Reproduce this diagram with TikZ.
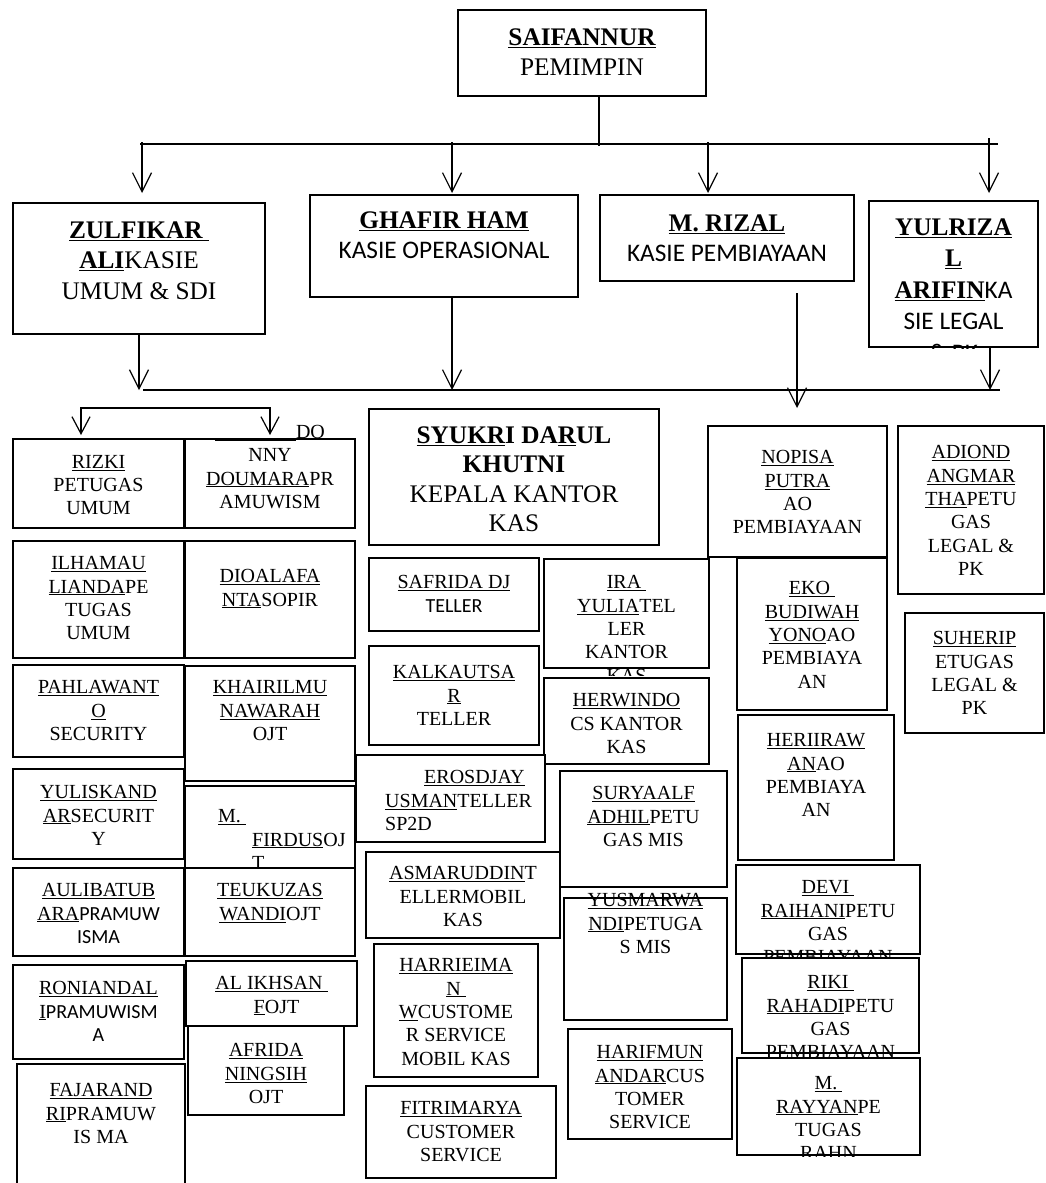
\documentclass[tikz,border=0pt]{standalone}
\usepackage{fontspec}
\setmainfont{Liberation Serif}
\newfontfamily\calib{Carlito}
\usetikzlibrary{arrows.meta,positioning}

\begin{document}
\begin{tikzpicture}[x=1pt,y=-1pt,
    box/.style 2 args={draw,line width=2pt,fill=white,minimum width=#1,minimum height=#2,anchor=north west,inner sep=0pt},
    big/.style={font=\fontsize{25.3}{30.5}\selectfont,align=center,inner sep=0pt},
    small/.style={font=\fontsize{20}{23.3}\selectfont,align=center,inner sep=0pt},
    link/.style={line width=1.2pt},
    arr/.style={line width=1.2pt,-{Straight Barb[length=19pt,width=19pt]}}]

    \path[use as bounding box,clip] (0,0) rectangle (1045,1183);

    \node[box={248}{86}] (saifannur) at (457,9) {};
    \node[big,below=19.5pt of saifannur.north] (saifannurT) {\textbf{\underline{SAIFANNUR}}\\PEMIMPIN};

    \node[box={252}{131}] (zulfikar) at (12,202) {};
    \node[big,below=19.5pt of zulfikar.north] (zulfikarT) {\textbf{\underline{ZULFIKAR\ }}\\\textbf{\underline{ALI}}KASIE\\UMUM \& SDI};
    \node[box={268}{102}] (ghafir) at (309,194) {};
    \node[big,below=17.5pt of ghafir.north] (ghafirT) {\textbf{\underline{GHAFIR HAM}}\\{\calib KASIE OPERASIONAL}};
    \node[box={254}{86}] (rizal) at (599,194) {};
    \node[big,below=20.5pt of rizal.north] (rizalT) {\textbf{\underline{M. RIZAL}}\\{\calib KASIE PEMBIAYAAN}};
    \node[box={169}{146}] (yulriza) at (868,200) {};
    \begin{scope}
        \clip (yulriza.north west) rectangle (yulriza.south east);
        \node[big,font=\fontsize{25.3}{31.5}\selectfont,below=18.5pt of yulriza.north] (yulrizaT) {\textbf{\underline{YULRIZA}}\\\textbf{\underline{L}}\\\textbf{\underline{ARIFIN}}{\calib KA}\\{\calib SIE LEGAL}\\{\calib \& PK}};
    \end{scope}

    \node[box={171}{89}] (rizki) at (12,438) {};
    \node[small,below=17pt of rizki.north] (rizkiT) {\underline{RIZKI}\\PETUGAS\\UMUM};
    \node[box={170}{89}] (donny) at (184,438) {};
    \node[small,below=-13pt of donny.north] (donnyT) {\underline{\hspace*{81pt}}DO\\NNY\\\underline{DOUMARA}PR\\AMUWISM};
    \node[box={171}{117}] (ilham) at (12,540) {};
    \node[small,below=16.4pt of ilham.north] (ilhamT) {\underline{ILHAMAU}\\\underline{LIANDA}PE\\TUGAS\\UMUM};
    \node[box={170}{117}] (dio) at (184,540) {};
    \node[small,below=29.4pt of dio.north] (dioT) {\underline{DIOALAFA}\\\underline{NTA}SOPIR};
    \node[box={171}{92}] (pahlawan) at (12,664) {};
    \node[small,below=16.4pt of pahlawan.north] (pahlawanT) {\underline{PAHLAWANT}\\\underline{O}\\SECURITY};
    \node[box={170}{115}] (khairil) at (184,665) {};
    \node[small,below=15.4pt of khairil.north] (khairilT) {\underline{KHAIRILMU}\\\underline{NAWARAH}\\OJT};
    \node[box={171}{90}] (yulis) at (12,768) {};
    \node[small,below=17.4pt of yulis.north] (yulisT) {\underline{YULISKAND}\\\underline{AR}SECURIT\\Y};
    \node[box={170}{82}] (firdus) at (184,785) {};
    \begin{scope}
        \clip (firdus.north west) rectangle (firdus.south east);
        \node[small,align=left,below right=24.4pt and 34pt of firdus.north west] (firdusT) {\underline{M.\ }\\\hspace*{34pt}\underline{FIRDUS}OJ\\\hspace*{34pt}T};
    \end{scope}
    \node[box={171}{88}] (aulia) at (12,867) {};
    \node[small,below=16.4pt of aulia.north] (auliaT) {\underline{AULIBATUB}\\\underline{ARA}{\calib PRAMUW}\\{\calib ISMA}};
    \node[box={170}{88}] (teuku) at (184,867) {};
    \node[small,below=16.4pt of teuku.north] (teukuT) {\underline{TEUKUZAS}\\\underline{WANDI}OJT};
    \node[box={171}{94}] (roni) at (12,964) {};
    \node[small,below=17.4pt of roni.north] (roniT) {\underline{RONIANDAL}\\\underline{I}{\calib PRAMUWISM}\\{\calib A}};
    \node[box={171}{65}] (ikhsan) at (185,960) {};
    \node[small,below=16.4pt of ikhsan.north] (ikhsanT) {\underline{AL IKHSAN\ }\\\hspace*{10pt}\underline{F}OJT};
    \node[box={156}{89}] (afrida) at (187,1025) {};
    \node[small,below=18.4pt of afrida.north] (afridaT) {\underline{AFRIDA}\\\underline{NINGSIH}\\OJT};
    \node[box={168}{140}] (fajar) at (16,1063) {};
    \node[small,below=20.4pt of fajar.north] (fajarT) {\underline{FAJARAND}\\\underline{RI}PRAMUW\\IS MA};

    \node[box={290}{136}] (syukri) at (368,408) {};
    \node[big,font=\fontsize{25.3}{29.3}\selectfont,below=18.5pt of syukri.north] (syukriT) {\textbf{\underline{SYUKR}I DA\underline{R}UL}\\\textbf{KHUTNI}\\KEPALA KANTOR\\KAS};
    \node[box={170}{73}] (safrida) at (368,557) {};
    \node[small,below=18.4pt of safrida.north] (safridaT) {\underline{SAFRIDA DJ}\\{\calib TELLER}};
    \node[box={165}{109}] (ira) at (543,558) {};
    \begin{scope}
        \clip (ira.north west) rectangle ([yshift=-6pt]ira.south east);
        \node[small,below=17.4pt of ira.north] (iraT) {\underline{IRA\ }\\\underline{YULIA}TEL\\LER\\KANTOR\\KAS};
    \end{scope}
    \node[box={170}{99}] (kalkautsar) at (368,645) {};
    \node[small,below=20.4pt of kalkautsar.north] (kalkautsarT) {\underline{KALKAUTSA}\\\underline{R}\\TELLER};
    \node[box={165}{86}] (herwindo) at (543,677) {};
    \node[small,below=16.4pt of herwindo.north] (herwindoT) {\underline{HERWINDO}\\CS KANTOR\\KAS};
    \node[box={189}{87}] (eros) at (355,754) {};
    \node[small,align=left,below right=16.4pt and 30pt of eros.north west] (erosT) {\hspace*{39pt}\underline{EROSDJAY}\\\underline{USMAN}TELLER\\SP2D};
    \node[box={167}{116}] (surya) at (559,770) {};
    \node[small,below=16.4pt of surya.north] (suryaT) {\underline{SURYAALF}\\\underline{ADHIL}PETU\\GAS MIS};
    \node[box={194}{86}] (asmar) at (365,851) {};
    \node[small,below=15.4pt of asmar.north] (asmarT) {\underline{ASMARUDDIN}T\\ELLERMOBIL\\KAS};
    \node[box={163}{122}] (yusmar) at (563,897) {};
    \node[small,below=-3.6pt of yusmar.north] (yusmarT) {\underline{YUSMARWA}\\\underline{NDI}PETUGA\\S MIS};
    \node[box={164}{133}] (harri) at (373,943) {};
    \node[small,below=15.4pt of harri.north] (harriT) {\underline{HARRIEIMA}\\\underline{N\ }\\\underline{W}CUSTOME\\R SERVICE\\MOBIL KAS};
    \node[box={190}{92}] (fitri) at (365,1085) {};
    \node[small,below=16.4pt of fitri.north] (fitriT) {\underline{FITRIMARYA}\\CUSTOMER\\SERVICE};
    \node[box={164}{110}] (harif) at (567,1028) {};
    \node[small,below=17.4pt of harif.north] (harifT) {\underline{HARIFMUN}\\\underline{ANDAR}CUS\\TOMER\\SERVICE};

    \node[box={179}{131}] (nopisa) at (707,425) {};
    \node[small,below=25.4pt of nopisa.north] (nopisaT) {\underline{NOPISA}\\\underline{PUTRA}\\AO\\PEMBIAYAAN};
    \node[box={146}{168}] (adiond) at (897,425) {};
    \node[small,below=20.4pt of adiond.north] (adiondT) {\underline{ADIOND}\\\underline{ANGMAR}\\\underline{THA}PETU\\GAS\\LEGAL \&\\PK};
    \node[box={150}{152}] (eko) at (736,557) {};
    \node[small,below=24.4pt of eko.north] (ekoT) {\underline{EKO\ }\\\underline{BUDIWAH}\\\underline{YONO}AO\\PEMBIAYA\\AN};
    \node[box={139}{120}] (suheri) at (904,612) {};
    \node[small,below=19.4pt of suheri.north] (suheriT) {\underline{SUHERIP}\\ETUGAS\\LEGAL \&\\PK};
    \node[box={156}{145}] (heri) at (737,714) {};
    \node[small,below=19.4pt of heri.north] (heriT) {\underline{HERIIRAW}\\\underline{AN}AO\\PEMBIAYA\\AN};
    \node[box={184}{89}] (devi) at (735,864) {};
    \begin{scope}
        \clip (devi.north west) rectangle ([yshift=-1pt]devi.south east);
        \node[small,below=16.4pt of devi.north] (deviT) {\underline{DEVI\ }\\\underline{RAIHANI}PETU\\GAS\\PEMBIAYAAN};
    \end{scope}
    \node[box={177}{95}] (riki) at (741,957) {};
    \begin{scope}
        \clip (riki.north west) rectangle ([yshift=-6pt]riki.south east);
        \node[small,below=18.4pt of riki.north] (rikiT) {\underline{RIKI\ }\\\underline{RAHADI}PETU\\GAS\\PEMBIAYAAN};
    \end{scope}
    \node[box={183}{97}] (rayyan) at (736,1057) {};
    \begin{scope}
        \clip (rayyan.north west) rectangle (rayyan.south east);
        \node[small,below=19.4pt of rayyan.north] (rayyanT) {\underline{M.\ }\\\underline{RAYYAN}PE\\TUGAS\\RAHN};
    \end{scope}

    \coordinate (split) at (599,146);
    \coordinate (busl) at (140,144);
    \coordinate (busr) at (998,144);
    \coordinate (d1) at (142,142);
    \coordinate (d2) at (452,142);
    \coordinate (d3) at (708,142);
    \coordinate (d4) at (989,138);
    \draw[link] (saifannur.south -| split) -- (split);
    \draw[link] (busl) -- (busr);
    \draw[arr,shorten >=9pt] (d1) -- (d1 |- zulfikar.north);
    \draw[arr,shorten >=1pt] (d2) -- (d2 |- ghafir.north);
    \draw[arr,shorten >=1pt] (d3) -- (d3 |- rizal.north);
    \draw[arr,shorten >=7pt] (d4) -- (d4 |- yulriza.north);

    \coordinate (bus2l) at (143,390);
    \coordinate (bus2r) at (1000,390);
    \coordinate (e2) at (452,390);
    \coordinate (e3) at (797,293);
    \coordinate (e4) at (990,390);
    \draw[link] (bus2l) -- (bus2r);
    \draw[arr] (zulfikar.south) -- (zulfikar.south |- bus2l);
    \draw[arr] (ghafir.south -| e2) -- (e2);
    \draw[arr,shorten >=17pt] (e3) -- (e3 |- nopisa.north);
    \draw[arr] (yulriza.south -| e4) -- (e4);

    \coordinate (brl) at (81,408);
    \coordinate (brr) at (270,408);
    \draw[link,{Straight Barb[length=17pt,width=18pt]}-{Straight Barb[length=17pt,width=18pt]},shorten <=3pt,shorten >=3pt] (brl |- rizki.north) -- (brl) -- (brr) -- (brr |- donny.north);
\end{tikzpicture}
\end{document}
